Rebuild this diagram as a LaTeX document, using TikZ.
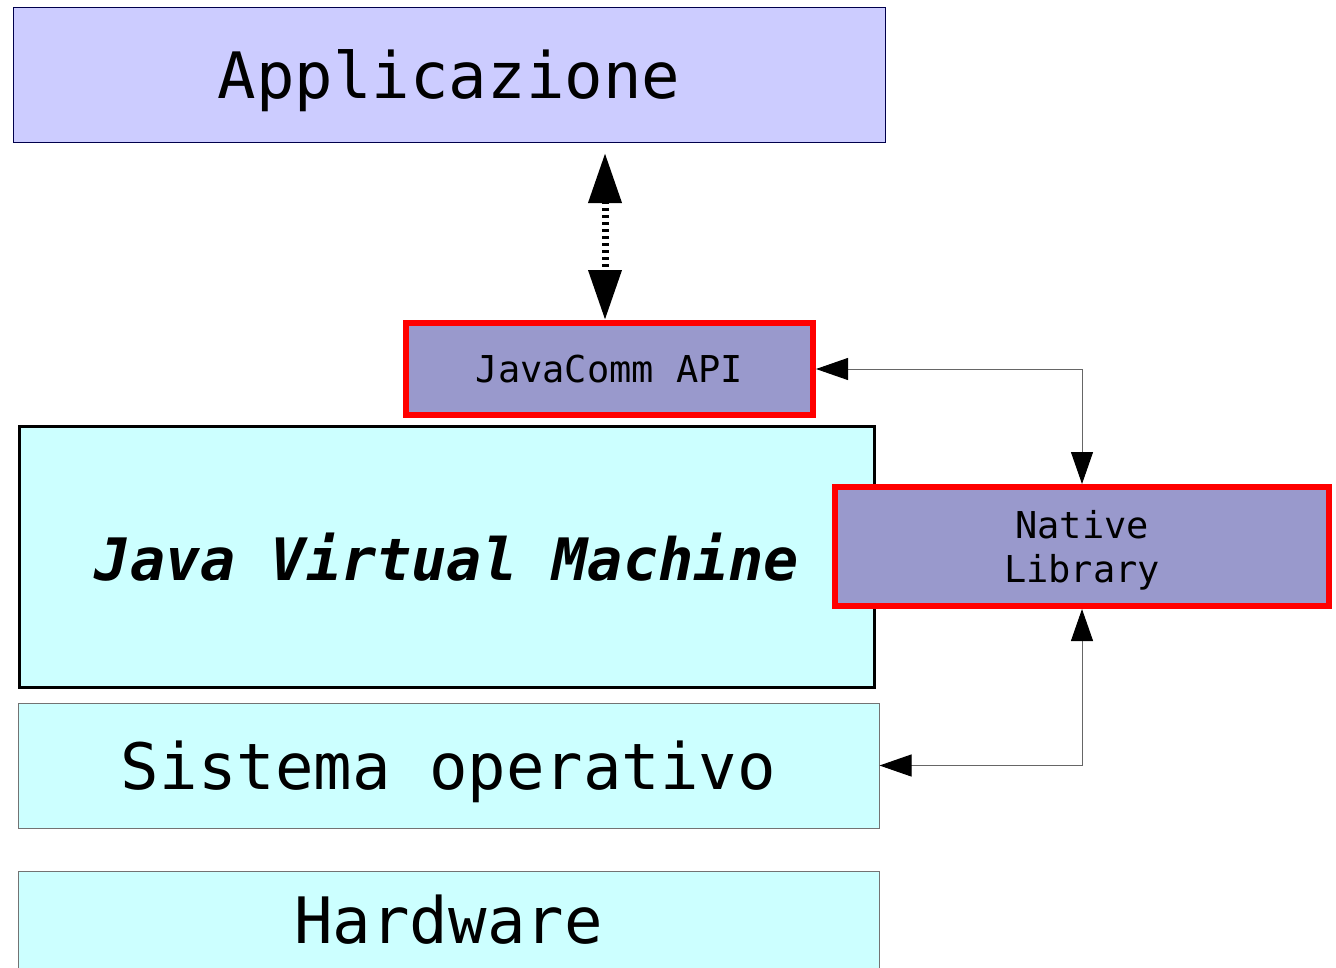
\documentclass[tikz,border=0pt]{standalone}
\usepackage{fontspec}
\setmonofont{DejaVu Sans Mono}
\usetikzlibrary{arrows.meta}
\definecolor{lav}{HTML}{CCCCFF}
\definecolor{apibg}{HTML}{9999CC}
\definecolor{cyanbg}{HTML}{CCFFFF}
\begin{document}
\begin{tikzpicture}[x=1pt,y=-1pt,
  box/.style={rectangle,inner sep=0pt,font=\ttfamily,text depth=0pt},
  redbox/.style={box,draw=red,line width=6pt,fill=apibg},
  thin/.style={draw=black!80!gray,line width=0.9pt},
  conn/.style={draw=black!60,line width=1pt,{Triangle[length=32pt,width=22pt,black]}-{Triangle[length=32pt,width=22pt,black]}}]
\clip (0,0) rectangle (1336,967);
\fill[white] (0,0) rectangle (1336,967);
\node[box,thin,draw=black!70!blue,fill=lav,minimum width=872pt,minimum height=135pt,font=\ttfamily\fontsize{64}{70}\selectfont] (app) at (449,74.5) {Applicazione};
\node[redbox,minimum width=407pt,minimum height=92pt,font=\ttfamily\fontsize{37}{42}\selectfont] (api) at (609.5,369) {JavaComm API};
\node[box,draw=black,line width=3pt,fill=cyanbg,minimum width=855pt,minimum height=261pt,font=\ttfamily\bfseries\itshape\fontsize{58.5}{64}\selectfont] (jvm) at (447,557) {Java Virtual Machine};
\node[redbox,minimum width=494pt,minimum height=119pt,align=center,font=\ttfamily\fontsize{37}{44}\selectfont] (nat) at (1082,546.5) {Native\\Library};
\node[box,draw=black!55,line width=1pt,fill=cyanbg,minimum width=861pt,minimum height=125pt,font=\ttfamily\fontsize{64}{70}\selectfont] (os) at (448.5,765.5) {Sistema operativo};
\node[box,draw=black!55,line width=1pt,fill=cyanbg,minimum width=861pt,minimum height=118pt] (hw) at (448.5,930) {};
\node[font=\ttfamily\fontsize{64}{70}\selectfont,inner sep=0pt,anchor=base] (hwt) at (448.5,943) {Hardware};
\coordinate (dtop) at (605,153);
\draw[line width=7pt,dash pattern=on 3pt off 4pt,{Triangle[length=50pt,width=32pt]}-{Triangle[length=50pt,width=32pt]}] (dtop) -- (dtop |- api.north);
\draw[conn] (nat.north) |- (api.east);
\draw[conn] (nat.south) |- (os.east);
\end{tikzpicture}
\end{document}
